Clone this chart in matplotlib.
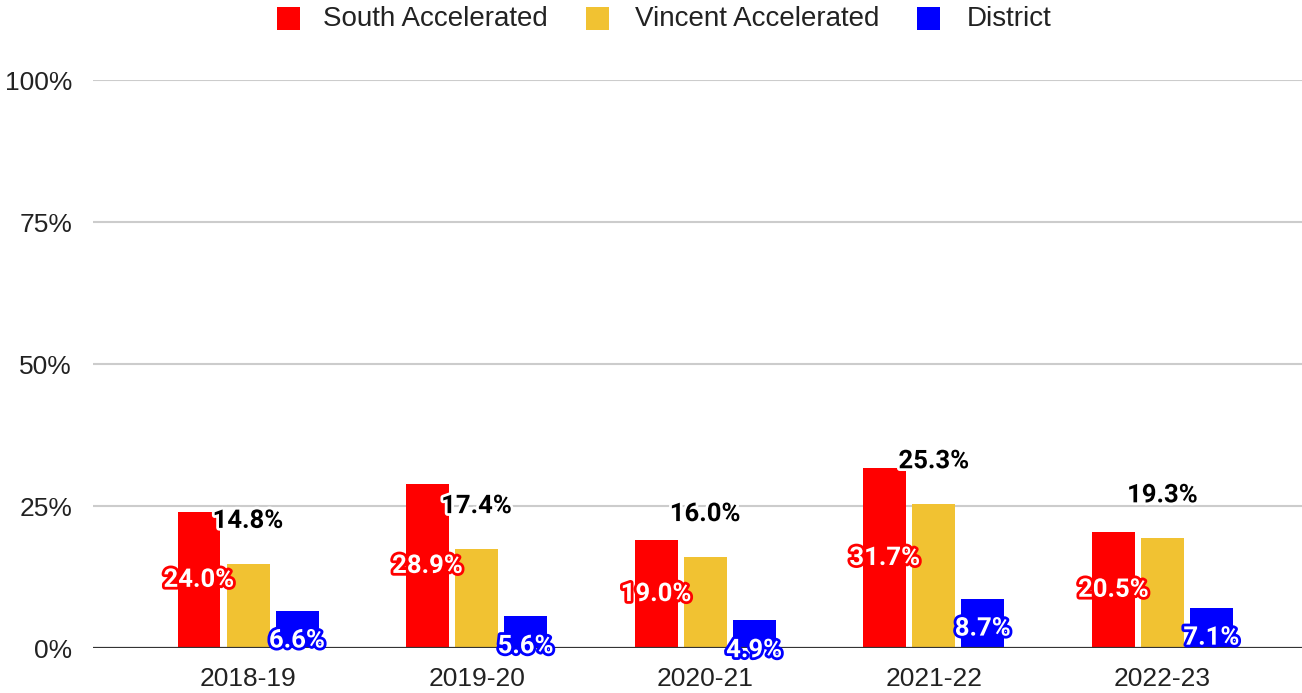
import matplotlib
matplotlib.use("Agg")
import matplotlib.pyplot as plt
import matplotlib.patheffects as pe
from matplotlib.patches import Rectangle
import numpy as np

categories = ["2018-19", "2019-20", "2020-21", "2021-22", "2022-23"]
series_names = ["South Accelerated", "Vincent Accelerated", "District"]
south = [24.0, 28.9, 19.0, 31.7, 20.5]
vincent = [14.8, 17.4, 16.0, 25.3, 19.3]
district = [6.6, 5.6, 4.9, 8.7, 7.1]
colors = ["#ff0000", "#f1c232", "#0000ff"]
yticks = [0, 25, 50, 75, 100]
ytick_labels = ["0%", "25%", "50%", "75%", "100%"]

plt.rcParams['font.family'] = ['Liberation Sans', 'DejaVu Sans']

W, H = 1302, 693
fig = plt.figure(figsize=(W / 100, H / 100), dpi=100)
ax = fig.add_axes([93 / W, 45 / H, (1302 - 93) / W, (648 - 80) / H])

x = np.arange(len(categories))
bw = 0.188
step = 0.2144
data = [south, vincent, district]
for k, (vals, col) in enumerate(zip(data, colors)):
    ax.bar(x + (k - 1) * step, vals, width=bw, color=col, zorder=3)

ax.set_xlim(-0.678, 4.61)
ax.set_ylim(0, 100)
ax.set_yticks(yticks)
ax.set_yticklabels(ytick_labels)
ax.set_xticks(x)
ax.set_xticklabels(categories)
ax.tick_params(axis='both', length=0, labelsize=19, colors="#222222")
ax.tick_params(axis='y', pad=15)
ax.tick_params(axis='x', pad=14)
for s in ax.spines.values():
    s.set_visible(False)
for yv in yticks[1:]:
    ax.axhline(yv, color="#cccccc", lw=1.5, zorder=1)
ax.axhline(0, color="#333333", lw=1.6, zorder=4)

fs = 18.5
lab_font = ['Roboto', 'DejaVu Sans']
for i in range(len(categories)):
    ax.text(x[i] - step, south[i] / 2, f"{south[i]:.1f}%", ha="center", va="center",
            fontsize=fs, fontweight="bold", color="white", zorder=6, family=lab_font,
            path_effects=[pe.withStroke(linewidth=4, foreground=colors[0])])
    ax.annotate(f"{vincent[i]:.1f}%", (x[i], vincent[i]), xytext=(0, 31),
                textcoords="offset points", ha="center", va="center",
                fontsize=fs, fontweight="bold", color="black", zorder=6, family=lab_font,
                path_effects=[pe.withStroke(linewidth=4, foreground="white")])
    ax.annotate(f"{district[i]:.1f}%", (x[i] + step, district[i]), xytext=(0, -21.6),
                textcoords="offset points", ha="center", va="center",
                fontsize=fs, fontweight="bold", color="white", zorder=6, family=lab_font,
                annotation_clip=False,
                path_effects=[pe.withStroke(linewidth=4, foreground=colors[2])])

leg_items = [(277, 323), (586, 635), (917, 967)]
for (mx, tx), name, col in zip(leg_items, series_names, colors):
    fig.patches.append(Rectangle((mx / W, 1 - 30 / H), 23 / W, 23 / H, transform=fig.transFigure,
                                 facecolor=col, edgecolor="none"))
    fig.text(tx / W, 1 - 18.5 / H, name, ha="left", va="center", fontsize=20, color="#222222")

fig.savefig("out.png", dpi=100)
